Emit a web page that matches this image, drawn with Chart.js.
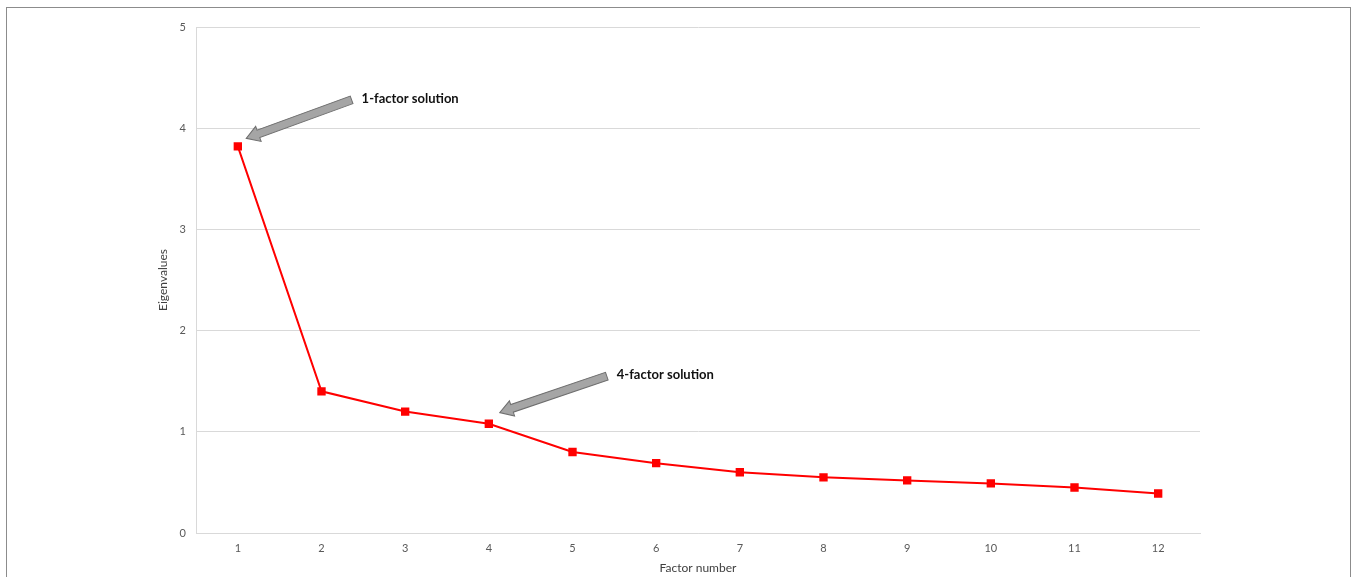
<!DOCTYPE html>
<html>
<head>
<meta charset="utf-8">
<script src="https://cdn.jsdelivr.net/npm/chart.js@4/dist/chart.umd.min.js"></script>
<style>
  body { margin: 0; background: #fff; }
  #frame { position: absolute; left: 6px; top: 7px; width: 1345px; height: 600px; border: 1px solid #8c8c8c; box-sizing: border-box; }
  #wrap { position: absolute; left: 0; top: 0; width: 1353px; height: 577px; }
</style>
</head>
<body>
<div id="frame"></div>
<div id="wrap"><canvas id="myChart"></canvas></div>
<script>
'use strict';

let factors = ['1', '2', '3', '4', '5', '6', '7', '8', '9', '10', '11', '12'];
let eigenvalues = [3.82, 1.40, 1.20, 1.08, 0.80, 0.69, 0.60, 0.55, 0.52, 0.49, 0.45, 0.39];
let yTicks = [0, 1, 2, 3, 4, 5];

// arrows pointing at chart values: tip/tail in data units (category index, eigenvalue)
let notes = [
  { text: '1-factor solution', tip: [0.1, 3.90], tail: [1.36, 4.28] },
  { text: '4-factor solution', tip: [3.13, 1.19], tail: [4.41, 1.55] }
];

let arrowPlugin = {
  id: 'arrowNotes',
  afterDatasetsDraw(chart) {
    let ctx = chart.ctx;
    let xs = chart.scales.x;
    let ys = chart.scales.y;
    notes.forEach(function (n) {
      let x1 = xs.getPixelForValue(n.tail[0]);
      let y1 = ys.getPixelForValue(n.tail[1]);
      let x2 = xs.getPixelForValue(n.tip[0]);
      let y2 = ys.getPixelForValue(n.tip[1]);
      let len = Math.hypot(x2 - x1, y2 - y1);
      let ang = Math.atan2(y2 - y1, x2 - x1);
      let shaft = 4, head = 8, headLen = 13;
      ctx.save();
      ctx.translate(x1, y1);
      ctx.rotate(ang);
      ctx.beginPath();
      ctx.moveTo(0, -shaft);
      ctx.lineTo(len - headLen, -shaft);
      ctx.lineTo(len - headLen, -head);
      ctx.lineTo(len, 0);
      ctx.lineTo(len - headLen, head);
      ctx.lineTo(len - headLen, shaft);
      ctx.lineTo(0, shaft);
      ctx.closePath();
      ctx.fillStyle = '#a5a5a5';
      ctx.fill();
      ctx.lineWidth = 1;
      ctx.strokeStyle = '#6f6f6f';
      ctx.stroke();
      ctx.restore();

      ctx.save();
      ctx.font = 'bold 13px Lato, "Open Sans", sans-serif';
      ctx.fillStyle = '#111';
      ctx.textBaseline = 'middle';
      ctx.fillText(n.text, x1 + 10, y1 - 1);
      ctx.restore();
    });
  }
};

let ctx = document.getElementById('myChart').getContext('2d');

new Chart(ctx, {
  type: 'line',
  data: {
    labels: factors,
    datasets: [{
      label: 'Eigenvalues',
      data: eigenvalues,
      borderColor: '#ff0000',
      backgroundColor: '#ff0000',
      borderWidth: 2,
      pointStyle: 'rect',
      pointRadius: 4.5,
      pointHoverRadius: 4.5,
      tension: 0
    }]
  },
  options: {
    responsive: true,
    maintainAspectRatio: false,
    animation: false,
    layout: { padding: { left: 152, right: 153, top: 27, bottom: 0 } },
    plugins: {
      legend: { display: false },
      tooltip: { enabled: false }
    },
    scales: {
      x: {
        offset: true,
        grid: { display: false, drawTicks: false },
        border: { display: true, color: '#d9d9d9', width: 1 },
        ticks: { color: '#595959', padding: 9, font: { family: 'Lato, "Open Sans", sans-serif', size: 11 } },
        title: { display: true, text: 'Factor number', color: '#404040', padding: { top: 4, bottom: 2 }, font: { family: 'Lato, "Open Sans", sans-serif', size: 12 } },
        afterFit(scale) { scale.height = 44; }
      },
      y: {
        min: 0,
        max: 5,
        afterBuildTicks(scale) { scale.ticks = yTicks.map(function (v) { return { value: v }; }); },
        grid: { color: '#d9d9d9', drawTicks: false },
        border: { display: true, color: '#d9d9d9', width: 1 },
        ticks: { color: '#595959', padding: 10, font: { family: 'Lato, "Open Sans", sans-serif', size: 11 } },
        title: { display: true, text: 'Eigenvalues', color: '#404040', padding: { top: 4, bottom: 4 }, font: { family: 'Lato, "Open Sans", sans-serif', size: 12 } },
        afterFit(scale) { scale.width = 44; }
      }
    }
  },
  plugins: [arrowPlugin]
});
</script>
</body>
</html>
